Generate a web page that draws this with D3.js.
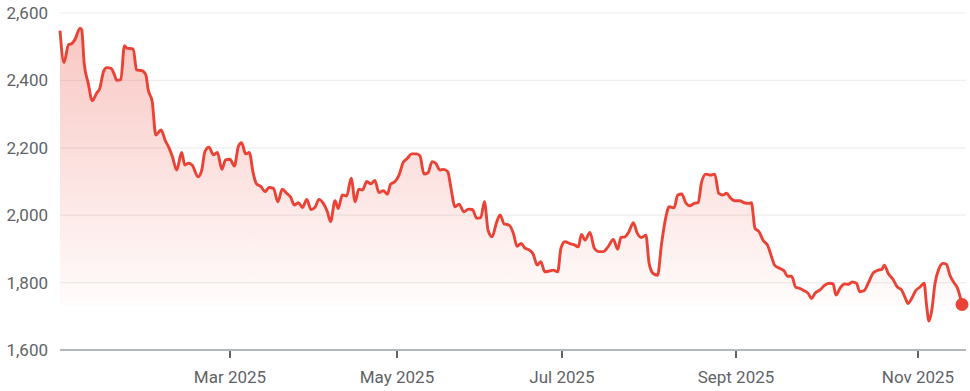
<!DOCTYPE html>
<html lang="en">
<head>
  <meta charset="UTF-8">
  <title>Price chart 2025</title>
  <script src="https://d3js.org/d3.v7.min.js"></script>
  <style>
    body {
      margin: 0;
      background: #fff;
      font-family: Roboto, "Noto Sans", sans-serif;
    }
    .grid line {
      stroke: #eeeeee;
      stroke-width: 1.2px;
    }
    .label {
      fill: #5f6368;
    }
  </style>
</head>
<body>
  <svg id="chart" width="970" height="391"></svg>

  <script>
    // trading-day position along the axis and the price read at it
    const day = [
      0, 1.0, 2.1, 2.9, 3.7, 5.0, 5.4, 6.0, 7.0, 8.0, 9.1, 9.9, 10.8, 11.6, 12.7, 13.5, 14.1, 15.1,
      16.0, 16.6, 18.2, 19.0, 20.3, 21.3, 21.9, 22.9, 23.8, 25.1, 26.1, 27.1, 27.9, 29.0, 30.2, 31.0,
      31.9, 32.8, 34.3, 35.2, 36.0, 37.0, 38.1, 39.1, 40.2, 41.1, 42.2, 43.3, 44.3, 45.1, 46.1, 47.0,
      48.0, 48.8, 49.9, 50.9, 51.9, 53.0, 54.1, 55.2, 56.3, 57.3, 58.2, 59.2, 60.2, 61.3, 62.3, 63.3,
      64.3, 65.4, 66.4, 67.2, 68.3, 69.1, 70.1, 71.2, 72.3, 73.3, 74.2, 75.1, 76.2, 77.2, 78.2, 79.2,
      80.3, 81.3, 82.1, 83.2, 84.2, 85.2, 86.3, 87.3, 88.6, 89.4, 90.4, 91.4, 92.4, 93.3, 94.4, 95.3,
      96.3, 97.1, 98.1, 99.1, 100.3, 101.4, 102.4, 103.5, 104.5, 105.4, 106.3, 107.3, 108.4, 109.3,
      110.3, 111.5, 112.6, 113.5, 114.5, 115.5, 116.5, 117.5, 118.5, 119.4, 120.4, 121.5, 122.5,
      123.6, 124.4, 125.4, 126.6, 127.9, 128.7, 129.5, 130.4, 131.6, 132.7, 133.9, 134.9, 136.1,
      137.4, 138.5, 139.3, 140.3, 141.3, 142.4, 143.3, 144.4, 145.5, 146.3, 147.3, 148.4, 149.4,
      150.4, 151.3, 152.5, 153.4, 154.4, 155.4, 156.4, 157.5, 158.5, 159.3, 160.4, 161.6, 162.6,
      163.6, 164.7, 165.5, 166.6, 167.6, 168.8, 169.9, 171.1, 171.7, 172.6, 173.6, 174.6, 175.7,
      176.7, 177.5, 178.8, 179.8, 180.7, 181.7, 182.7, 183.7, 184.8, 185.8, 186.6, 187.6, 188.7,
      190.0, 191.2, 192.0, 192.7, 193.7, 194.8, 195.8, 196.7, 197.8, 198.6, 199.7, 200.7, 202.0,
      203.2, 204.1, 204.7, 205.7, 206.9, 207.9, 209.0, 209.8, 210.6, 211.5, 212.5, 213.6, 214.6,
      215.2, 215.8, 216.5, 217.3, 218.3, 219.3, 220.1, 221.0, 222.1, 222.9, 224.0
    ];
    const price = [
      2548, 2453, 2506, 2509, 2521, 2555, 2550, 2451, 2392, 2340, 2362, 2377, 2426, 2438, 2436, 2417, 2400, 2402,
      2503, 2496, 2493, 2431, 2429, 2417, 2372, 2337, 2238, 2253, 2223, 2199, 2174, 2134, 2186, 2149,
      2154, 2149, 2114, 2134, 2189, 2202, 2179, 2186, 2136, 2164, 2166, 2146, 2204, 2215, 2182, 2186,
      2124, 2093, 2085, 2070, 2082, 2080, 2040, 2077, 2065, 2053, 2030, 2037, 2023, 2047, 2017, 2023,
      2047, 2035, 2010, 1981, 2043, 2020, 2060, 2057, 2110, 2040, 2077, 2075, 2100, 2093, 2103, 2067,
      2073, 2062, 2092, 2100, 2119, 2156, 2169, 2182, 2182, 2176, 2122, 2126, 2159, 2154, 2134, 2136,
      2129, 2080, 2025, 2033, 2010, 2018, 2017, 1991, 1993, 2040, 1956, 1936, 1978, 2001,
      1974, 1971, 1946, 1908, 1916, 1902, 1897, 1885, 1852, 1862, 1832, 1834, 1837,
      1832, 1902, 1921, 1916, 1911, 1906, 1943, 1926, 1949, 1902, 1892, 1892, 1906,
      1928, 1899, 1934, 1936, 1951, 1978, 1948, 1934, 1941, 1857, 1827, 1822, 1916,
      1991, 2025, 2022, 2060, 2063, 2037, 2028, 2035, 2037, 2097, 2122, 2119, 2122,
      2065, 2060, 2065, 2050, 2043, 2043, 2037, 2035, 2037, 1961, 1951, 1926, 1911,
      1877, 1851, 1842, 1835, 1819, 1819, 1786, 1783, 1776, 1768, 1753, 1770, 1778,
      1793, 1798, 1796, 1763, 1783, 1796, 1795, 1802, 1798, 1773, 1776, 1798, 1829,
      1837, 1839, 1852, 1827, 1809, 1787, 1778, 1758, 1738, 1753, 1776, 1787, 1798,
      1733, 1686, 1718, 1798, 1842, 1857, 1855, 1822, 1798, 1783, 1735
    ];

    const yTicks = [1600, 1800, 2000, 2200, 2400, 2600];
    const monthDay = [42.2, 83.7, 124.7, 167.9, 213.1];
    const monthLabel = ["Mar 2025", "May 2025", "Jul 2025", "Sept 2025", "Nov 2025"];

    const data = day.map((d, i) => ({day: d, price: price[i]}));

    const svg = d3.select("#chart");
    const plotLeft = 60, plotRight = 966, plotTop = 13, plotBottom = 350;

    const x = d3.scaleLinear().domain([0, 224]).range([plotLeft, 962]);
    const y = d3.scaleLinear().domain([1600, 2600]).range([plotBottom, plotTop]);

    // gradient for the area under the line
    const defs = svg.append("defs");
    const grad = defs.append("linearGradient")
      .attr("id", "fade")
      .attr("x1", 0).attr("y1", 0).attr("x2", 0).attr("y2", 1);
    grad.append("stop").attr("offset", "0%").attr("stop-color", "#ea4335").attr("stop-opacity", 0.3);
    grad.append("stop").attr("offset", "100%").attr("stop-color", "#ea4335").attr("stop-opacity", 0.0);

    // grid lines
    svg.append("g")
      .attr("class", "grid")
      .selectAll("line")
      .data(yTicks.slice(1))
      .join("line")
      .attr("x1", plotLeft).attr("x2", plotRight)
      .attr("y1", d => y(d)).attr("y2", d => y(d));

    // y labels
    svg.append("g")
      .selectAll("text")
      .data(yTicks)
      .join("text")
      .attr("class", "label")
      .attr("x", 48)
      .attr("y", d => y(d) + 6)
      .attr("text-anchor", "end")
      .style("font-size", "17px")
      .text(d => d3.format(",")(d));

    // area
    const minPrice = d3.min(price);
    svg.append("path")
      .datum(data)
      .attr("fill", "url(#fade)")
      .attr("d", d3.area()
        .x(d => x(d.day))
        .y0(y(minPrice) - 15)
        .y1(d => y(d.price))
        .curve(d3.curveMonotoneX));

    // x axis line
    svg.append("line")
      .attr("x1", plotLeft).attr("x2", plotRight)
      .attr("y1", plotBottom).attr("y2", plotBottom)
      .attr("stroke", "#9aa0a6")
      .attr("stroke-width", 1.5);

    // month ticks + labels
    const months = svg.append("g")
      .selectAll("g")
      .data(monthDay)
      .join("g")
      .attr("transform", d => `translate(${Math.round(x(d))},${plotBottom})`);
    months.append("line")
      .attr("y1", 1).attr("y2", 8)
      .attr("stroke", "#5f6368")
      .attr("stroke-width", 2);
    months.append("text")
      .attr("class", "label")
      .attr("y", 33)
      .attr("text-anchor", "middle")
      .style("font-size", "17px")
      .text((d, i) => monthLabel[i]);

    // price line
    svg.append("path")
      .datum(data)
      .attr("fill", "none")
      .attr("stroke", "#ea4335")
      .attr("stroke-width", 2.9)
      .attr("stroke-linejoin", "round")
      .attr("d", d3.line()
        .x(d => x(d.day))
        .y(d => y(d.price))
        .curve(d3.curveMonotoneX));

    // last value dot
    const last = data[data.length - 1];
    svg.append("circle")
      .attr("cx", x(last.day))
      .attr("cy", y(last.price))
      .attr("r", 6.5)
      .attr("fill", "#ea4335");
  </script>
</body>
</html>
